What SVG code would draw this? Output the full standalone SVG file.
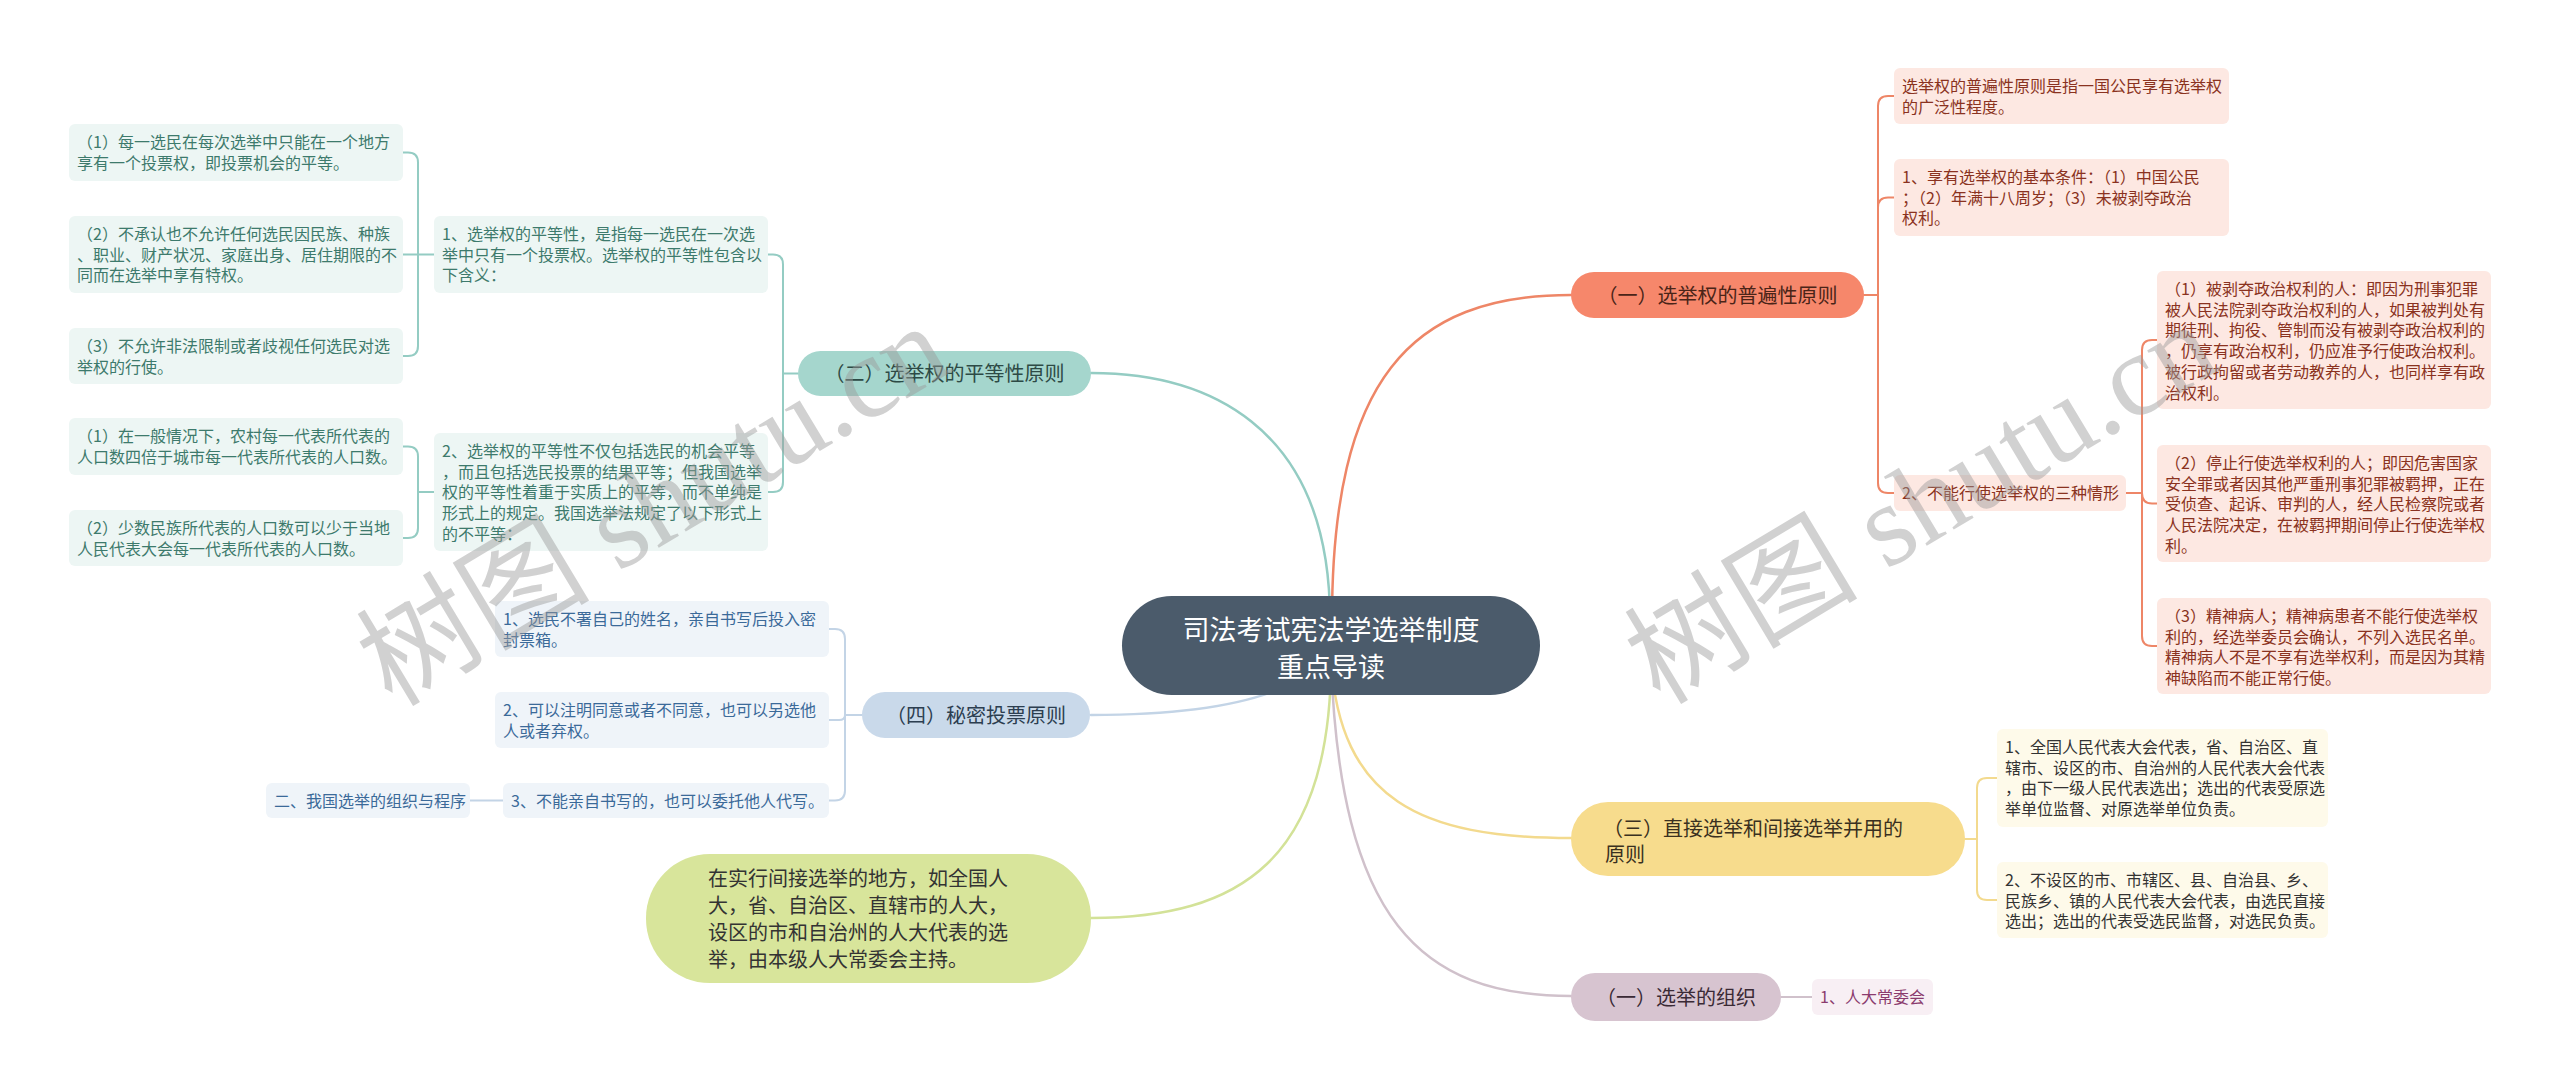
<svg xmlns="http://www.w3.org/2000/svg" width="2560" height="1089" viewBox="0 0 2560 1089">
<style>
text{font-family:"Noto Sans CJK SC","Liberation Sans",sans-serif;}
.sm{font-size:16px;}
.mn{font-size:20px;}
.ct{font-size:27px;fill:#ffffff;}
.conn path{fill:none;stroke-linecap:round;}
.main{stroke-width:2.5;}
.sub{stroke-width:2;}
.o{stroke:#ee8667;} .t{stroke:#94ccc3;} .b{stroke:#c3d4e6;} .g{stroke:#d3e298;} .y{stroke:#f3da8e;} .m{stroke:#d0c1cb;}
.bo{fill:#fde8e2;}
.fo{fill:#8a3220;} .bt{fill:#edf6f4;} .ft{fill:#3d7a6c;}
.bb{fill:#eff4f9;} .fb{fill:#3b6a99;}
.by{fill:#fefaea;} .fy{fill:#333333;}
.bm{fill:#f8eff4;} .fm{fill:#8b3b6e;}
.wm{font-family:"Liberation Serif","Noto Sans CJK SC",serif;font-size:117px;fill:#9a9a9a;opacity:0.45;}
</style>
<rect width="2560" height="1089" fill="#ffffff"/>

<g id="connectors" class="conn">
  <path class="main o" d="M1332 620 C1332 380 1410 295 1571 295"/>
  <path class="main t" d="M1330 620 C1330 420 1200 373 1091 373"/>
  <path class="main b" d="M1331 650 C1300 700 1200 715 1091 715"/>
  <path class="main g" d="M1331 660 C1331 860 1240 918 1091 918"/>
  <path class="main y" d="M1331 660 C1340 800 1420 838 1571 838"/>
  <path class="main m" d="M1331 660 C1340 920 1420 996 1571 996"/>
  <path class="sub o" d="M1864 295 H1878 V106 Q1878 96 1888 96 H1894"/>
  <path class="sub o" d="M1878 295 V207.5 Q1878 197.5 1888 197.5 H1894"/>
  <path class="sub o" d="M1878 295 V483 Q1878 493 1888 493 H1894"/>
  <path class="sub o" d="M2126 493 H2142 V350 Q2142 340 2152 340 H2157"/>
  <path class="sub o" d="M2142 493 Q2142 503.5 2152 503.5 H2157"/>
  <path class="sub o" d="M2142 493 V636 Q2142 646 2152 646 H2157"/>
  <path class="sub y" d="M1965 839 H1977 V788 Q1977 778 1987 778 H1997"/>
  <path class="sub y" d="M1977 839 V890 Q1977 900 1987 900 H1997"/>
  <path class="sub m" d="M1781 997 H1812"/>
  <path class="sub t" d="M798 373.5 H783 V264.5 Q783 254.5 773 254.5 H768"/>
  <path class="sub t" d="M783 373.5 V482 Q783 492 773 492 H768"/>
  <path class="sub t" d="M434 254.5 H418 V162.5 Q418 152.5 408 152.5 H403"/>
  <path class="sub t" d="M418 254.5 H403"/>
  <path class="sub t" d="M418 254.5 V346 Q418 356 408 356 H403"/>
  <path class="sub t" d="M434 492 H418 V456.5 Q418 446.5 408 446.5 H403"/>
  <path class="sub t" d="M418 492 V528 Q418 538 408 538 H403"/>
  <path class="sub b" d="M862 715 H845 V639 Q845 629 835 629 H829"/>
  <path class="sub b" d="M845 715 Q845 720 839 720 H829"/>
  <path class="sub b" d="M845 715 V790.5 Q845 800.5 835 800.5 H829"/>
  <path class="sub b" d="M503 800.5 H470"/>
</g>

<g id="center">
  <rect x="1122" y="596" width="418" height="99" rx="49.5" fill="#4b5b6b"/>
  <text class="ct" x="1331" y="640" text-anchor="middle">司法考试宪法学选举制度</text>
  <text class="ct" x="1331" y="677" text-anchor="middle">重点导读</text>
</g>

<g id="r1">
  <rect x="1571" y="272" width="293" height="46" rx="23" fill="#f6876b"/>
  <text class="mn" x="1717.5" y="302.5" text-anchor="middle" fill="#4a2418">（一）选举权的普遍性原则</text>
</g>
<g id="r1a">
  <rect class="bo" x="1894" y="68" width="335" height="56" rx="6"/>
  <text class="sm fo" x="1902" y="92">选举权的普遍性原则是指一国公民享有选举权</text>
  <text class="sm fo" x="1902" y="112.7">的广泛性程度。</text>
</g>
<g id="r1b">
  <rect class="bo" x="1894" y="159" width="335" height="77" rx="6"/>
  <text class="sm fo" x="1902" y="183">1、享有选举权的基本条件：（1）中国公民</text>
  <text class="sm fo" x="1902" y="203.7">；（2）年满十八周岁；（3）未被剥夺政治</text>
  <text class="sm fo" x="1902" y="224.4">权利。</text>
</g>
<g id="r1c">
  <rect class="bo" x="1894" y="475" width="232" height="36" rx="6"/>
  <text class="sm fo" x="1902" y="499">2、不能行使选举权的三种情形</text>
</g>
<g id="r1c1">
  <rect class="bo" x="2157" y="271" width="334" height="138" rx="6"/>
  <text class="sm fo" x="2165" y="295">（1）被剥夺政治权利的人：即因为刑事犯罪</text>
  <text class="sm fo" x="2165" y="315.7">被人民法院剥夺政治权利的人，如果被判处有</text>
  <text class="sm fo" x="2165" y="336.4">期徒刑、拘役、管制而没有被剥夺政治权利的</text>
  <text class="sm fo" x="2165" y="357.1">，仍享有政治权利，仍应准予行使政治权利。</text>
  <text class="sm fo" x="2165" y="377.8">被行政拘留或者劳动教养的人，也同样享有政</text>
  <text class="sm fo" x="2165" y="398.5">治权利。</text>
</g>
<g id="r1c2">
  <rect class="bo" x="2157" y="445" width="334" height="117" rx="6"/>
  <text class="sm fo" x="2165" y="469">（2）停止行使选举权利的人；即因危害国家</text>
  <text class="sm fo" x="2165" y="489.7">安全罪或者因其他严重刑事犯罪被羁押，正在</text>
  <text class="sm fo" x="2165" y="510.4">受侦查、起诉、审判的人，经人民检察院或者</text>
  <text class="sm fo" x="2165" y="531.1">人民法院决定，在被羁押期间停止行使选举权</text>
  <text class="sm fo" x="2165" y="551.8">利。</text>
</g>
<g id="r1c3">
  <rect class="bo" x="2157" y="598" width="334" height="96" rx="6"/>
  <text class="sm fo" x="2165" y="622">（3）精神病人；精神病患者不能行使选举权</text>
  <text class="sm fo" x="2165" y="642.7">利的，经选举委员会确认，不列入选民名单。</text>
  <text class="sm fo" x="2165" y="663.4">精神病人不是不享有选举权利，而是因为其精</text>
  <text class="sm fo" x="2165" y="684.1">神缺陷而不能正常行使。</text>
</g>

<g id="r3">
  <rect x="1571" y="802" width="394" height="74" rx="37" fill="#f7dc8d"/>
  <text class="mn" x="1603" y="835.5" fill="#3a3020">（三）直接选举和间接选举并用的</text>
  <text class="mn" x="1605" y="861.5" fill="#3a3020">原则</text>
</g>
<g id="r3a">
  <rect class="by" x="1997" y="729" width="331" height="98" rx="6"/>
  <text class="sm fy" x="2005" y="753">1、全国人民代表大会代表，省、自治区、直</text>
  <text class="sm fy" x="2005" y="773.7">辖市、设区的市、自治州的人民代表大会代表</text>
  <text class="sm fy" x="2005" y="794.4">，由下一级人民代表选出；选出的代表受原选</text>
  <text class="sm fy" x="2005" y="815.1">举单位监督、对原选举单位负责。</text>
</g>
<g id="r3b">
  <rect class="by" x="1997" y="862" width="331" height="76" rx="6"/>
  <text class="sm fy" x="2005" y="886">2、不设区的市、市辖区、县、自治县、乡、</text>
  <text class="sm fy" x="2005" y="906.7">民族乡、镇的人民代表大会代表，由选民直接</text>
  <text class="sm fy" x="2005" y="927.4">选出；选出的代表受选民监督，对选民负责。</text>
</g>

<g id="r4">
  <rect x="1571" y="973" width="210" height="48" rx="24" fill="#d7c4d0"/>
  <text class="mn" x="1676" y="1004.5" text-anchor="middle" fill="#3a2a35">（一）选举的组织</text>
</g>
<g id="r4a">
  <rect class="bm" x="1812" y="979" width="121" height="36" rx="6"/>
  <text class="sm fm" x="1820" y="1003">1、人大常委会</text>
</g>

<g id="l2">
  <rect x="798" y="351" width="293" height="45" rx="22.5" fill="#a5d6cd"/>
  <text class="mn" x="944.5" y="381" text-anchor="middle" fill="#2d4a45">（二）选举权的平等性原则</text>
</g>
<g id="l2a">
  <rect class="bt" x="434" y="216" width="334" height="77" rx="6"/>
  <text class="sm ft" x="442" y="240">1、选举权的平等性，是指每一选民在一次选</text>
  <text class="sm ft" x="442" y="260.7">举中只有一个投票权。选举权的平等性包含以</text>
  <text class="sm ft" x="442" y="281.4">下含义：</text>
</g>
<g id="l2b">
  <rect class="bt" x="434" y="433" width="334" height="118" rx="6"/>
  <text class="sm ft" x="442" y="457">2、选举权的平等性不仅包括选民的机会平等</text>
  <text class="sm ft" x="442" y="477.7">，而且包括选民投票的结果平等；但我国选举</text>
  <text class="sm ft" x="442" y="498.4">权的平等性着重于实质上的平等，而不单纯是</text>
  <text class="sm ft" x="442" y="519.1">形式上的规定。我国选举法规定了以下形式上</text>
  <text class="sm ft" x="442" y="539.8">的不平等：</text>
</g>
<g id="l2a1">
  <rect class="bt" x="69" y="124" width="334" height="57" rx="6"/>
  <text class="sm ft" x="77" y="148">（1）每一选民在每次选举中只能在一个地方</text>
  <text class="sm ft" x="77" y="168.7">享有一个投票权，即投票机会的平等。</text>
</g>
<g id="l2a2">
  <rect class="bt" x="69" y="216" width="334" height="77" rx="6"/>
  <text class="sm ft" x="77" y="240">（2）不承认也不允许任何选民因民族、种族</text>
  <text class="sm ft" x="77" y="260.7">、职业、财产状况、家庭出身、居住期限的不</text>
  <text class="sm ft" x="77" y="281.4">同而在选举中享有特权。</text>
</g>
<g id="l2a3">
  <rect class="bt" x="69" y="328" width="334" height="56" rx="6"/>
  <text class="sm ft" x="77" y="352">（3）不允许非法限制或者歧视任何选民对选</text>
  <text class="sm ft" x="77" y="372.7">举权的行使。</text>
</g>
<g id="l2b1">
  <rect class="bt" x="69" y="418" width="334" height="57" rx="6"/>
  <text class="sm ft" x="77" y="442">（1）在一般情况下，农村每一代表所代表的</text>
  <text class="sm ft" x="77" y="462.7">人口数四倍于城市每一代表所代表的人口数。</text>
</g>
<g id="l2b2">
  <rect class="bt" x="69" y="510" width="334" height="56" rx="6"/>
  <text class="sm ft" x="77" y="534">（2）少数民族所代表的人口数可以少于当地</text>
  <text class="sm ft" x="77" y="554.7">人民代表大会每一代表所代表的人口数。</text>
</g>

<g id="l4">
  <rect x="862" y="692" width="228" height="46" rx="23" fill="#c9d9ea"/>
  <text class="mn" x="976" y="722.5" text-anchor="middle" fill="#2c3e50">（四）秘密投票原则</text>
</g>
<g id="l4a">
  <rect class="bb" x="495" y="601" width="334" height="56" rx="6"/>
  <text class="sm fb" x="503" y="625">1、选民不署自己的姓名，亲自书写后投入密</text>
  <text class="sm fb" x="503" y="645.7">封票箱。</text>
</g>
<g id="l4b">
  <rect class="bb" x="495" y="692" width="334" height="56" rx="6"/>
  <text class="sm fb" x="503" y="716">2、可以注明同意或者不同意，也可以另选他</text>
  <text class="sm fb" x="503" y="736.7">人或者弃权。</text>
</g>
<g id="l4c">
  <rect class="bb" x="503" y="783" width="326" height="35" rx="6"/>
  <text class="sm fb" x="511" y="806.5">3、不能亲自书写的，也可以委托他人代写。</text>
</g>
<g id="l4c1">
  <rect class="bb" x="266" y="783" width="204" height="35" rx="6"/>
  <text class="sm fb" x="274" y="806.5">二、我国选举的组织与程序</text>
</g>

<g id="l5">
  <rect x="646" y="854" width="445" height="129" rx="64" fill="#d8e59b"/>
  <text class="mn" x="708" y="886" fill="#333333">在实行间接选举的地方，如全国人</text>
  <text class="mn" x="708" y="913" fill="#333333">大，省、自治区、直辖市的人大，</text>
  <text class="mn" x="708" y="940" fill="#333333">设区的市和自治州的人大代表的选</text>
  <text class="mn" x="708" y="967" fill="#333333">举，由本级人大常委会主持。</text>
</g>

<g id="watermarks">
  <text class="wm" transform="translate(392 708) rotate(-31)">树图 shutu.cn</text>
  <text class="wm" transform="translate(1660 706) rotate(-31)">树图 shutu.cn</text>
</g>
</svg>
